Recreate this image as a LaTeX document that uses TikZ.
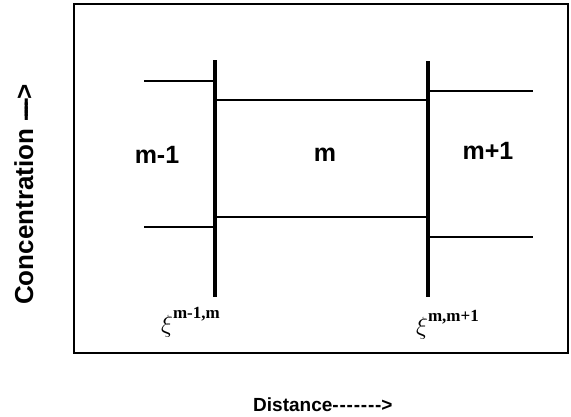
\documentclass[tikz,border=0pt]{standalone}
\usepackage{fontspec}
\setmainfont{Liberation Sans}[Ligatures=TeXOff]
\newfontfamily\serifb{Liberation Serif}
\begin{document}
\begin{tikzpicture}[x=1pt,y=-1pt,
  thinline/.style={line width=1.1pt},
  wall/.style={line width=3.6pt},
  frame/.style={line width=1.2pt},
  region/.style={font=\fontsize{25}{28}\selectfont\bfseries},
  xilabel/.style={inner sep=0pt, anchor=base west}]
\useasboundingbox (0,0) rectangle (571,416);
\draw[frame] (74,4) rectangle (568,353);
% walls
\coordinate (wlt) at (215,60);
\coordinate (wlb) at (215,297);
\coordinate (wrt) at (428,61);
\coordinate (wrb) at (428,297);
\draw[wall] (wlt) -- (wlb);
\draw[wall] (wrt) -- (wrb);
% levels
\coordinate (a1) at (144,81);  \coordinate (a2) at (215,81);
\coordinate (b1) at (144,227); \coordinate (b2) at (215,227);
\coordinate (c1) at (215,100); \coordinate (c2) at (428,100);
\coordinate (d1) at (215,217); \coordinate (d2) at (428,217);
\coordinate (e1) at (428,91);  \coordinate (e2) at (533,91);
\coordinate (f1) at (428,237); \coordinate (f2) at (533,237);
\draw[thinline] (a1) -- (a2);
\draw[thinline] (b1) -- (b2);
\draw[thinline] (c1) -- (c2);
\draw[thinline] (d1) -- (d2);
\draw[thinline] (e1) -- (e2);
\draw[thinline] (f1) -- (f2);
% labels
\node[region] (lm1) at (157,155) {m-1};
\node[region] (lm) at (325,155) {m};
\node[region] (lm2) at (488,151) {m+1};
\node[xilabel] (xi1) at (161,332) {\fontsize{28}{30}\selectfont$\xi$\raisebox{14pt}{\serifb\bfseries\fontsize{17}{18}\selectfont m-1,m}};
\node[xilabel] (xi2) at (416,334) {\fontsize{28}{30}\selectfont$\xi$\raisebox{13pt}{\serifb\bfseries\fontsize{17}{18}\selectfont m,m+1}};
\node[font=\fontsize{19}{22}\selectfont\bfseries, anchor=base west, inner sep=0pt] (dist) at (253,411) {Distance-\kern0.8pt-\kern0.8pt-\kern0.8pt-\kern0.8pt-\kern0.8pt-\kern0.8pt->};
\node[font=\fontsize{26}{28}\selectfont\bfseries, rotate=90, anchor=base west, inner sep=0pt] (conc) at (33,305) {Concentration -\kern-5pt-\kern-5pt-\kern-5pt-\kern-5pt-\kern-1pt>};
\end{tikzpicture}
\end{document}
